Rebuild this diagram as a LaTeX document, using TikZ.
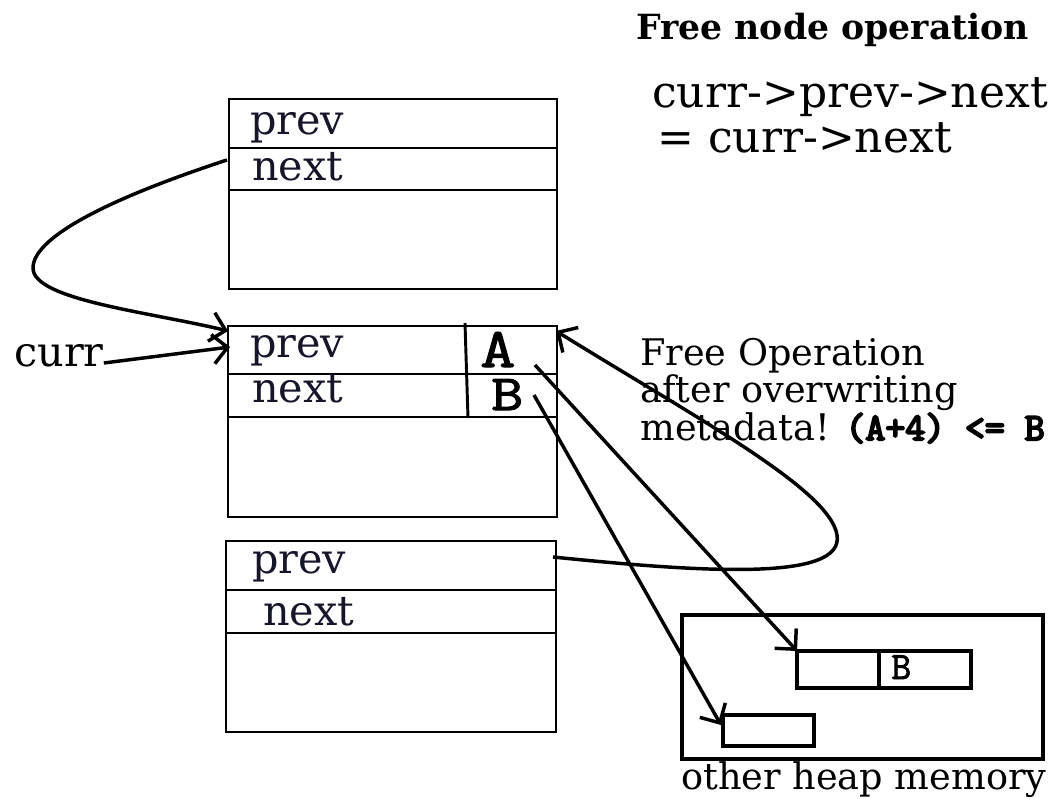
\documentclass[tikz,border=0pt]{standalone}
\usepackage{fontspec}
\usepackage{graphicx}
\setmainfont{DejaVu Serif}
\usetikzlibrary{arrows.meta}
\definecolor{inkdark}{RGB}{22,22,42}
% typewriter text thickened by stroking the glyph outlines
\newcommand\thickmono[2]{{\ttfamily\special{pdf:literal direct 2 Tr #1 w}#2\special{pdf:literal direct 0 Tr}}}
% wider typewriter letter for the overwritten fields
\newcommand\widemono[2]{\scalebox{1.22}[1]{\thickmono{#1}{#2}}}
\begin{document}
\begin{tikzpicture}[x=0.75pt,y=-0.75pt,
  memory/.style={draw, rectangle, line width=1.5pt, inner sep=0pt, outer sep=0pt},
  heapbox/.style={draw, rectangle, line width=2.4pt, inner sep=0pt, outer sep=0pt},
  rowline/.style={line width=1.5pt},
  field/.style={anchor=base west, inner sep=0pt, text=inkdark, font=\fontsize{31}{31}\selectfont},
  addr/.style={anchor=base west, inner sep=0pt},
  note/.style={anchor=base west, inner sep=0pt, font=\fontsize{27.5}{27.5}\selectfont},
  link/.style={line width=2.6pt, -{Straight Barb[length=11pt,width=22pt]}}]
\useasboundingbox (0,0) rectangle (1056,799);

% ---- heading and the pointer update ----
\node[anchor=base west, inner sep=0pt, font=\bfseries\fontsize{26}{26}\selectfont] (title) at (636,40) {Free node operation};
\node[anchor=base west, inner sep=0pt, font=\fontsize{33}{33}\selectfont] (code1) at (652,108) {curr->prev->next};
\node[anchor=base west, inner sep=0pt, font=\fontsize{33}{33}\selectfont] (code2) at (657,152) {= curr->next};

% ---- chunk above curr ----
\node[memory, minimum width=246pt, minimum height=142.5pt] (b1) at (393,194) {};
\draw[rowline] (229,148) -- (557,148);
\draw[rowline] (229,190) -- (557,190);
\node[field] (b1prev) at (250,134) {prev};
\node[field] (b1next) at (252,180) {next};

% ---- curr chunk with overwritten metadata ----
\node[memory, minimum width=246.75pt, minimum height=143.25pt] (b2) at (392.5,421.5) {};
\draw[rowline] (228,374) -- (557,374);
\draw[rowline] (228,417) -- (557,417);
\draw[line width=2.2pt] (465,323) -- (468,418);
\node[addr, font=\fontsize{42}{42}\selectfont] (valA) at (480,367) {\widemono{0.8}{A}};
\node[addr, font=\fontsize{38}{38}\selectfont] (valB) at (491,410) {\widemono{0.8}{B}};
\node[field] (b2prev) at (250,357) {prev};
\node[field] (b2next) at (252,402) {next};

% ---- chunk below curr ----
\node[memory, minimum width=247.5pt, minimum height=143.25pt] (b3) at (391,636.5) {};
\draw[rowline] (226,590) -- (556,590);
\draw[rowline] (226,633) -- (556,633);
\node[field] (b3prev) at (252,573) {prev};
\node[field] (b3next) at (263,625) {next};

% ---- curr label ----
\node[anchor=base west, inner sep=0pt, font=\fontsize{31}{31}\selectfont] (curr) at (14,366) {curr};

% ---- other heap memory ----
\node[heapbox, minimum width=270.75pt, minimum height=108pt] (heap) at (862.5,687) {};
\node[heapbox, minimum width=130.5pt, minimum height=27.75pt] (hb1) at (884,669.5) {};
\draw[line width=2.4pt] (879,651) -- (879,688);
\node[anchor=base west, inner sep=0pt, font=\fontsize{29}{29}\selectfont] (hbB) at (891,679) {\thickmono{0.6}{B}};
\node[heapbox, minimum width=68.25pt, minimum height=23.25pt] (hb2) at (768.5,730.5) {};
\node[anchor=base west, inner sep=0pt, font=\fontsize{27.5}{27.5}\selectfont] (heaplbl) at (681,789) {other heap memory};

% ---- explanation ----
\node[note] (n1) at (640,365) {Free Operation};
\node[note] (n2) at (640,402) {after overwriting};
\node[note] (n3) at (640,440) {metadata! {\fontsize{29}{29}\selectfont\thickmono{1.5}{(A+4) <= B}}};

% ---- end points of the links ----
\coordinate (nextOut) at (227,160);
\coordinate (prevIn) at (228,331);
\coordinate (currIn) at (230,347);
\coordinate (aOut) at (535,365);
\coordinate (bOut) at (534,395);
\coordinate (b3Out) at (553,557);
\coordinate (b2Corner) at (556,331);
\coordinate (hb2In) at (721,725);

% ---- links ----
\draw[link] (nextOut) .. controls (120,195) and (33,235) .. (33,268)
                      .. controls (33,300) and (150,312) .. (prevIn);
\draw[link] (curr.east |- 0,363) -- (currIn);
\draw[link] (aOut) -- (hb1.north west);
\draw[link] (bOut) -- (hb2In);
\draw[link] (b3Out) .. controls (700,572) and (845,582) .. (837,535)
                    .. controls (830,490) and (700,420) .. (b2Corner);
\end{tikzpicture}
\end{document}
